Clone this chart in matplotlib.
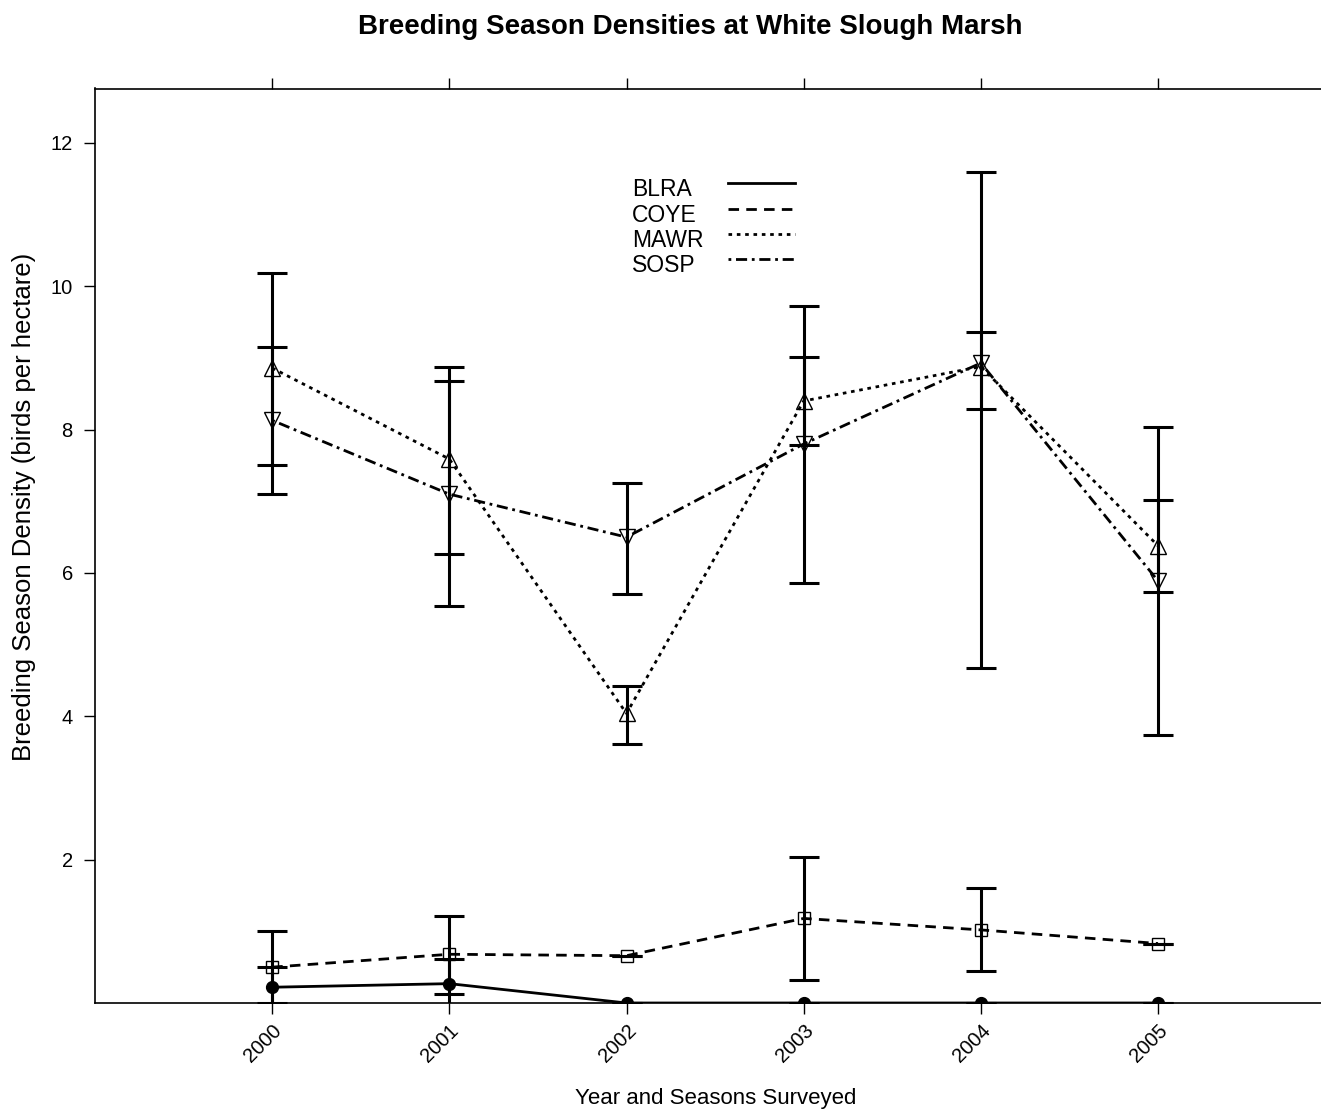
import matplotlib
matplotlib.use("Agg")
import matplotlib.pyplot as plt
from matplotlib.lines import Line2D
import numpy as np

plt.rcParams['font.family'] = ['Liberation Sans', 'DejaVu Sans']

# Survey years
years = [2000, 2001, 2002, 2003, 2004, 2005]

# Mean breeding season density (birds per hectare) with lower/upper error limits
blra = [0.22, 0.27, 0.0, 0.0, 0.0, 0.0]
blra_lo = [-0.06, -0.08, 0.0, 0.0, 0.0, 0.0]
blra_hi = [0.50, 0.61, 0.0, 0.0, 0.0, 0.0]

coye = [0.50, 0.68, 0.66, 1.18, 1.02, 0.83]
coye_lo = [0.00, 0.13, 0.66, 0.32, 0.44, 0.83]
coye_hi = [1.00, 1.22, 0.66, 2.04, 1.60, 0.83]

mawr = [8.86, 7.59, 4.04, 8.40, 8.88, 6.38]
mawr_lo = [7.50, 6.27, 3.61, 7.78, 8.29, 5.73]
mawr_hi = [10.19, 8.88, 4.43, 9.02, 9.36, 7.02]

sosp = [8.13, 7.10, 6.50, 7.80, 8.93, 5.89]
sosp_lo = [7.10, 5.54, 5.71, 5.86, 4.68, 3.74]
sosp_hi = [9.15, 8.68, 7.26, 9.72, 11.60, 8.04]

species = ['BLRA', 'COYE', 'MAWR', 'SOSP']
y_ticks = [2, 4, 6, 8, 10, 12]

LW = 2.0
styles = {
    'BLRA': dict(ls='-', marker='o', ms=8.5, mfc='black', mec='black'),
    'COYE': dict(ls=(0, (3.8, 2.6)), marker='s', ms=8, mfc='none', mec='black'),
    'MAWR': dict(ls=(0, (1.3, 1.7)), marker='^', ms=11, mfc='none', mec='black'),
    'SOSP': dict(ls=(0, (1.0, 1.7, 4.0, 1.7)), marker='v', ms=11, mfc='none', mec='black'),
}

series = {
    'BLRA': (blra, blra_lo, blra_hi),
    'COYE': (coye, coye_lo, coye_hi),
    'MAWR': (mawr, mawr_lo, mawr_hi),
    'SOSP': (sosp, sosp_lo, sosp_hi),
}

W, H = 1321, 1115
fig = plt.figure(figsize=(W / 100, H / 100), dpi=100)
ax = fig.add_axes([95 / W, (H - 1003) / H, (W - 95) / W, (1003 - 88.5) / H])

for name in species:
    vals, lo, hi = (np.array(a, dtype=float) for a in series[name])
    ax.errorbar(years, vals, yerr=[vals - lo, hi - vals], fmt='none',
                ecolor='black', elinewidth=2.2, capsize=10.5, capthick=2.2,
                zorder=2)
    st = styles[name]
    ax.plot(years, vals, color='black', lw=LW, linestyle=st['ls'],
            marker=st['marker'], markersize=st['ms'], markerfacecolor=st['mfc'],
            markeredgecolor=st['mec'], markeredgewidth=1.0, zorder=3)

ax.set_xlim(1999, 2005.92)
ax.set_ylim(0, 12.76)

ax.set_xticks(years)
ax.set_xticklabels([str(y) for y in years], rotation=45, ha='right',
                   va='top', rotation_mode='anchor', fontsize=14.5)
ax.set_yticks(y_ticks)
ax.set_yticklabels([str(v) for v in y_ticks], fontsize=14.5)

ax.tick_params(axis='x', direction='out', length=8, width=1.0, pad=5,
               top=True, bottom=True)
ax.tick_params(axis='y', direction='out', length=8, width=1.0, pad=8,
               left=True, right=False)

for side in ['left', 'top', 'bottom']:
    ax.spines[side].set_linewidth(1.2)
ax.spines['right'].set_visible(False)

ax.set_xlabel('Year and Seasons Surveyed', fontsize=16)
ax.xaxis.set_label_coords(0.506, -0.093)
ax.set_ylabel('Breeding Season Density (birds per hectare)', fontsize=18.5)
ax.yaxis.set_label_coords(-0.048, 0.543)

fig.text(690 / W, 1 - 27 / H, 'Breeding Season Densities at White Slough Marsh',
         ha='center', va='center', fontsize=20, fontweight='bold')

# Legend: left-aligned species codes with the line sample to their right
leg_x_text = 632
leg_line = (728, 795)
leg_rows = [183, 208.5, 234, 259]
for name, yl in zip(species, leg_rows):
    fig.text(leg_x_text / W, 1 - (yl + 13) / H, name, ha='left', va='baseline',
             fontsize=16.5)
    fig.add_artist(Line2D([leg_line[0] / W, leg_line[1] / W],
                          [1 - yl / H, 1 - yl / H], color='black', lw=LW,
                          linestyle=styles[name]['ls'],
                          transform=fig.transFigure))

fig.savefig('out.png', dpi=100)
